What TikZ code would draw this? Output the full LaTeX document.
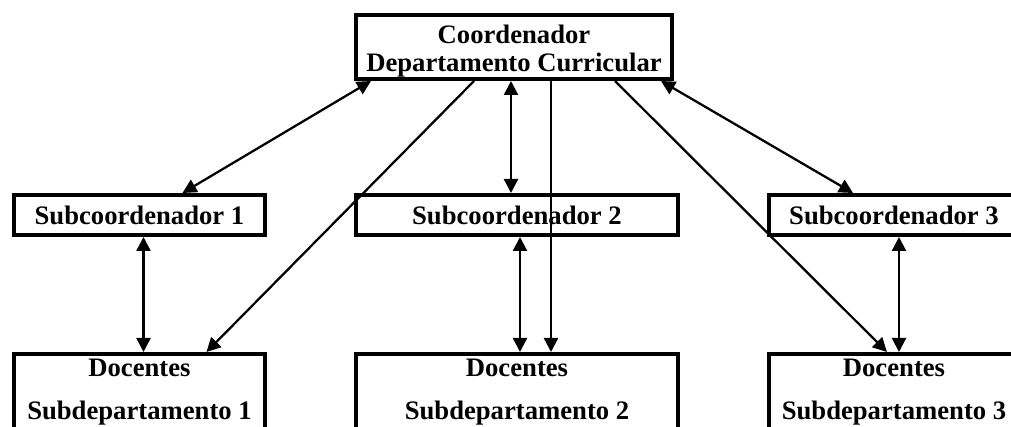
\documentclass[tikz,border=0pt]{standalone}
\usepackage{fontspec}
\setmainfont{Liberation Serif}
\usetikzlibrary{arrows.meta,calc}
\tikzset{
  every picture/.style={font=\bfseries\fontsize{20}{21.4}\selectfont},
  org box/.style={draw=black, line width=3pt, align=center, inner sep=0pt},
  org sub/.style={org box, minimum width=188pt, minimum height=30pt},
  org docs/.style={org box, minimum width=188pt, anchor=north, inner ysep=4pt},
  org arrow/.style={-{Triangle[length=10.5pt,width=10.5pt]}, line width=1.7pt},
  org both/.style={{Triangle[length=10.5pt,width=10.5pt]}-{Triangle[length=10.5pt,width=10.5pt]}, line width=1.7pt}
}

\begin{document}
\begin{tikzpicture}[x=0.75pt,y=-0.75pt]
  \clip (0,0) rectangle (1011,427);
  % coordinator on top
  \node[org box, minimum width=237pt, minimum height=48pt] (coord) at (514,47)
    {\rule{0pt}{20pt}Coordenador\\Departamento Curricular};
  % middle row
  \node[org sub] (sub1) at (139.5,215) {Subcoordenador 1};
  \node[org sub, minimum width=241.5pt] (sub2) at (517,215) {Subcoordenador 2};
  \node[org sub] (sub3) at (894,215) {Subcoordenador 3};
  % teachers, cut at the bottom
  \node[org docs] (doc1) at (139.5,352) {Docentes\\[10.8pt]Subdepartamento 1\rule[-20pt]{0pt}{0pt}};
  \node[org docs, minimum width=241.5pt] (doc2) at (517,352) {Docentes\\[10.8pt]Subdepartamento 2\rule[-20pt]{0pt}{0pt}};
  \node[org docs] (doc3) at (894,352) {Docentes\\[10.8pt]Subdepartamento 3\rule[-20pt]{0pt}{0pt}};

  \draw[org both] ($(coord.south west)+(17,0)$) -- ($(sub1.north)+(43,0)$);
  \draw[org arrow] ($(coord.south west)+(120,0)$) -- ($(doc1.north)+(67,0)$);
  \draw[org both] ($(coord.south)+(-3,0)$) -- ($(sub2.north)+(-6,0)$);
  \draw[org arrow] ($(coord.south)+(37,0)$) -- ($(doc2.north)+(34,0)$);
  \draw[org arrow] ($(coord.south)+(101,0)$) -- ($(doc3.north)+(-7,0)$);
  \draw[org both] ($(coord.south east)+(-13,0)$) -- ($(sub3.north)+(-41,0)$);

  \draw[org both] ($(sub1.south)+(4,0)$) -- ($(doc1.north)+(4,0)$);
  \draw[org both] ($(sub2.south)+(3,0)$) -- ($(doc2.north)+(3,0)$);
  \draw[org both] ($(sub3.south)+(5,0)$) -- ($(doc3.north)+(5,0)$);
\end{tikzpicture}
\end{document}
